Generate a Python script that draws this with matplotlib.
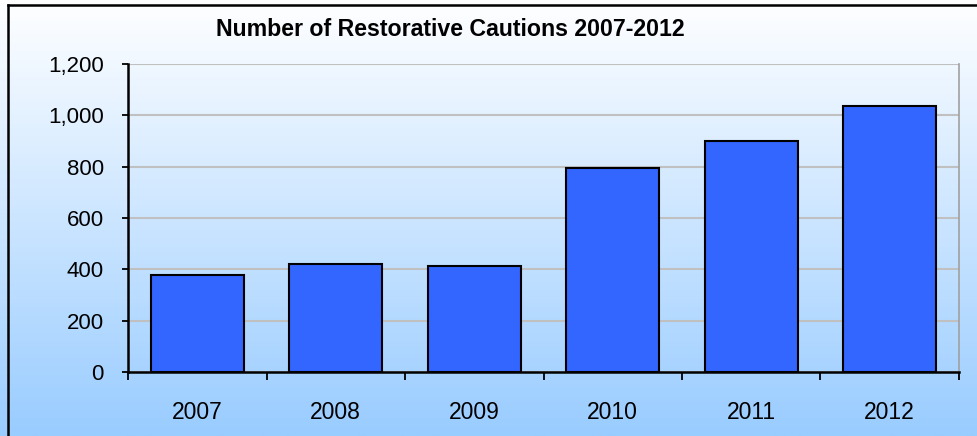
import numpy as np
import matplotlib.pyplot as plt
from matplotlib.lines import Line2D
from matplotlib.ticker import FuncFormatter, FixedLocator

# 数据
years = ['2007', '2008', '2009', '2010', '2011', '2012']
cautions = [379, 422, 414, 795, 901, 1037]

plt.rcParams['font.family'] = ['Liberation Sans', 'DejaVu Sans']

fig = plt.figure(figsize=(9.78, 4.36), dpi=100)

# 背景渐变
bg = fig.add_axes([0, 0, 1, 1], zorder=0)
grad = np.linspace(0, 1, 256).reshape(-1, 1)
top = np.array([1.0, 1.0, 1.0])
bot = np.array([0x99, 0xCC, 0xFF]) / 255.0
img = top + (bot - top) * grad[:, :, None]
bg.imshow(img, aspect='auto', extent=[0, 1, 0, 1], origin='upper')
bg.set_axis_off()

# 外框 (右、下被裁掉)
fig.add_artist(Line2D([8 / 978, 8 / 978], [0, 1 - 5 / 436], transform=fig.transFigure, color='black', lw=1.8))
fig.add_artist(Line2D([8 / 978, 1], [1 - 5 / 436, 1 - 5 / 436], transform=fig.transFigure, color='black', lw=1.8))

ax = fig.add_axes([128 / 978, 64 / 436, (959 - 128) / 978, (372 - 64) / 436], zorder=1)
ax.patch.set_alpha(0)

x = np.arange(len(years))
ax.bar(x, cautions, width=0.67, color='#3366FF', edgecolor='black', linewidth=1.5, zorder=3)

ax.set_xlim(-0.5, len(years) - 0.5)
ax.set_ylim(0, 1200)
ax.set_yticks(np.arange(0, 1201, 200))
ax.yaxis.set_major_formatter(FuncFormatter(lambda v, p: f'{int(v):,}'))
ax.grid(axis='y', color='#C0C0C0', lw=1.5, zorder=0)

# x轴: 分类边界刻度 + 中心标签
ax.xaxis.set_major_locator(FixedLocator(np.arange(-0.5, len(years), 1.0)))
ax.xaxis.set_major_formatter(FuncFormatter(lambda v, p: ''))
ax.xaxis.set_minor_locator(FixedLocator(x))
ax.set_xticklabels(years, minor=True)
ax.tick_params(axis='x', which='major', direction='out', length=5.5, width=1.3, color='black')
ax.tick_params(axis='x', which='minor', length=0, pad=21, labelsize=16.5)
ax.tick_params(axis='y', direction='out', length=4.5, width=1.3, pad=13, labelsize=16)

ax.spines['right'].set_color('#A0A0A0')
ax.spines['right'].set_linewidth(1.2)
ax.spines['top'].set_visible(False)
ax.spines['left'].set_linewidth(1.8)
ax.spines['bottom'].set_linewidth(1.8)

fig.text(450 / 978, 1 - 29 / 436, 'Number of Restorative Cautions 2007-2012',
         ha='center', va='center', fontsize=16.7, fontweight='bold')

plt.savefig('out.png', dpi=100)
